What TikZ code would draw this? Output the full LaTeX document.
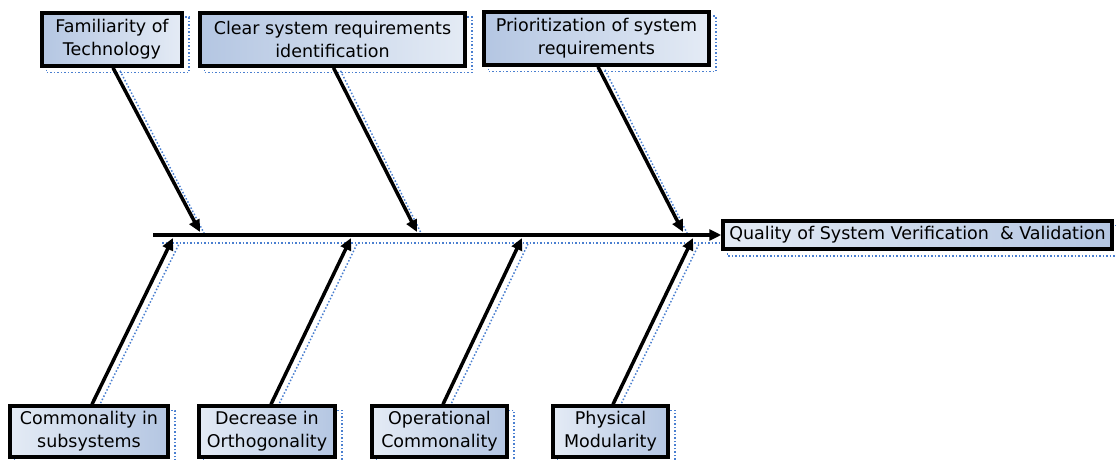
\documentclass[tikz,border=0pt]{standalone}
\usepackage{fontspec}
\setmainfont{DejaVu Sans}
\usetikzlibrary{arrows.meta,calc,backgrounds}
\definecolor{bdark}{HTML}{B4C6E2}
\definecolor{blight}{HTML}{E4EBF5}
\definecolor{shad}{HTML}{4A7FD0}
\begin{document}
\begin{tikzpicture}[x=1pt,y=-1pt,
  box/.style={draw=black,line width=3.5pt,align=center,inner sep=2pt,font=\fontsize{17.5}{23}\selectfont,text=black},
  topbox/.style={box,left color=bdark,right color=blight,minimum height=53pt},
  botbox/.style={box,left color=blight,right color=bdark,minimum height=51pt},
  shadowline/.style={draw=shad,line width=1.5pt,dash pattern=on 1.5pt off 2pt},
  bone/.style={line width=3.5pt,-{Triangle[length=12pt,width=11pt]}},
]
\useasboundingbox (0,0) rectangle (1116,460);
% boxes
\node[topbox,minimum width=140pt] (fam) at (112,39.5) {Familiarity of\\Technology};
\node[topbox,minimum width=265pt] (clr) at (332.5,39.5) {Clear system requirements\\identification};
\node[topbox,minimum width=225pt] (pri) at (596.5,38.5) {Prioritization of system\\requirements};
\node[botbox,minimum width=158pt] (com) at (89,431.5) {Commonality in\\subsystems};
\node[botbox,minimum width=136pt] (dec) at (267,431.5) {Decrease in\\Orthogonality};
\node[botbox,minimum width=135pt] (ope) at (439.5,431.5) {Operational\\Commonality};
\node[botbox,minimum width=115pt] (phy) at (610.5,431.5) {Physical\\Modularity};
\node[box,left color=blight,right color=bdark,minimum width=389pt,minimum height=28pt,inner sep=0pt] (res) at (917.5,235) {Quality of System Verification\ \ \& Validation};
% spine and tips
\coordinate (s0) at (153,235);
\coordinate (t1) at (200,232);
\coordinate (t2) at (417,232);
\coordinate (t3) at (683,232);
\coordinate (b1) at (173,238);
\coordinate (b2) at (351,238);
\coordinate (b3) at (522,238);
\coordinate (b4) at (693,238);
\coordinate (f1) at ($(fam.south)+(1,0)$);
\coordinate (f2) at ($(clr.south)+(1,0)$);
\coordinate (f3) at ($(pri.south)+(1.5,0)$);
\coordinate (g1) at ($(com.north)+(3,0)$);
\coordinate (g2) at ($(dec.north)+(4,0)$);
\coordinate (g3) at ($(ope.north)+(3.5,0)$);
\coordinate (g4) at ($(phy.north)+(2.5,0)$);
\draw[bone] (s0) -- (res.west);
\draw[bone] (f1) -- (t1);
\draw[bone] (f2) -- (t2);
\draw[bone] (f3) -- (t3);
\draw[bone] (g1) -- (b1);
\draw[bone] (g2) -- (b2);
\draw[bone] (g3) -- (b3);
\draw[bone] (g4) -- (b4);
% shadows
\begin{scope}[on background layer]
  \foreach \n in {fam,clr,pri,com,dec,ope,phy,res}{
    \draw[shadowline] ($(\n.north west)+(6,6)$) rectangle ($(\n.south east)+(5,5)$);
  }
  \draw[shadowline] ($(s0)+(9,8)$) -- ($(res.west)+(0,8)$);
  \foreach \a/\b in {f1/t1,f2/t2,f3/t3}{
    \draw[shadowline] ($(\a)+(7,3)$) -- ($(\b)+(5,3)$);
  }
  \foreach \a/\b in {g1/b1,g2/b2,g3/b3,g4/b4}{
    \draw[shadowline] ($(\a)+(7,2)$) -- ($(\b)+(6,6)$);
  }
\end{scope}
\end{tikzpicture}
\end{document}
